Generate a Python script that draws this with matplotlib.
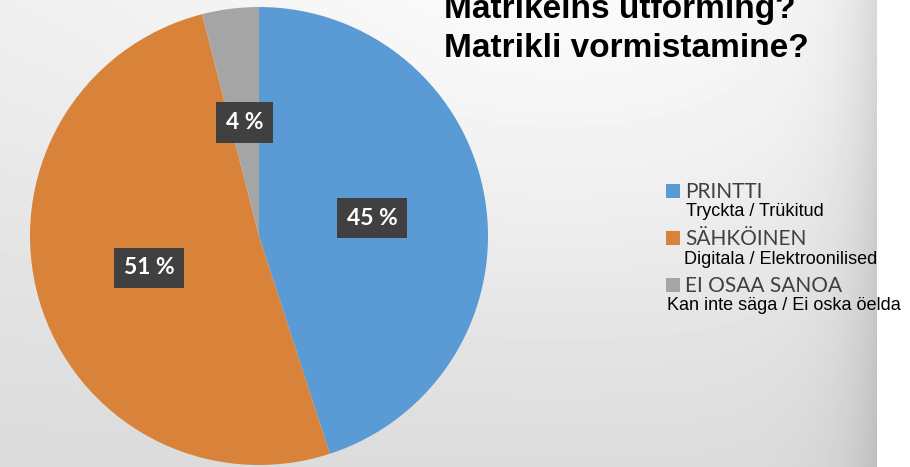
import numpy as np
import matplotlib
matplotlib.use("Agg")
import matplotlib.pyplot as plt

# ---- data ----
categories = ["PRINTTI", "SÄHKÖINEN", "EI OSAA SANOA"]
subtitles = ["Tryckta / Trükitud", "Digitala / Elektroonilised", "Kan inte säga / Ei oska öelda"]
values = [45, 51, 4]
colors = ["#5B9BD5", "#D8823A", "#A5A5A5"]
title_lines = ["Matrikelns utforming?", "Matrikli vormistamine?"]

W, H = 910, 467
fig = plt.figure(figsize=(W / 100, H / 100), dpi=100)

# ---- background gradient ----
bg = fig.add_axes([0, 0, 1, 1])
xx, yy = np.meshgrid(np.arange(W), np.arange(H))
val = (236 - 18 * (yy / H)
       + 14 * np.exp(-((xx - 560) / 450.0) ** 2 - ((yy - 40) / 300.0) ** 2)
       - 30 * np.exp(-np.clip(877 - xx, 0, None) / 35.0))
val = np.clip(val, 0, 255) / 255.0
val[:, 877:] = 1.0
bg.imshow(val, cmap="gray", vmin=0, vmax=1, extent=(0, W, H, 0), aspect="auto",
          interpolation="bilinear")
bg.set_xlim(0, W)
bg.set_ylim(H, 0)
bg.axis("off")

# ---- pie ----
cx, cy, r = 259, 236, 229
ax = fig.add_axes([(cx - r) / W, (H - cy - r) / H, 2 * r / W, 2 * r / H])
wedges, _t, autot = ax.pie(values, colors=colors, startangle=90, counterclock=False,
                           autopct=lambda p: f"{p:.0f} %", pctdistance=0.5,
                           wedgeprops=dict(linewidth=0), radius=1.0)
for t in autot:
    t.set_color("white")
    t.set_fontsize(16.5)
    t.set_fontweight("bold")
    t.set_fontfamily("Lato")
    t.set_bbox(dict(boxstyle="square,pad=0.42", facecolor="#404040", edgecolor="none"))
ax.set_xlim(-1, 1)
ax.set_ylim(-1, 1)
ax.set_aspect("equal")
ax.axis("off")

# ---- title ----
for i, line in enumerate(title_lines):
    fig.text(444 / W, 1 - (18 + 39 * i) / H, line, fontsize=24, fontweight="bold",
             family="Liberation Sans", color="black", ha="left", va="baseline")

# ---- legend ----
rows = [(198, 216, 685, 686), (245, 264, 685, 684), (292, 310, 685, 667)]
for (yb, ys, xt, xs), cat, sub, col in zip(rows, categories, subtitles, colors):
    fig.patches.append(plt.Rectangle((666 / W, 1 - (yb) / H), 14 / W, 14 / H,
                                     transform=fig.transFigure, facecolor=col,
                                     edgecolor="none"))
    fig.text(xt / W, 1 - yb / H, cat, fontsize=15, family="Lato", color="#404040",
             ha="left", va="baseline")
    fig.text(xs / W, 1 - ys / H, sub, fontsize=13, family="Liberation Sans",
             color="black", ha="left", va="baseline")

fig.savefig("out.png", dpi=100)
